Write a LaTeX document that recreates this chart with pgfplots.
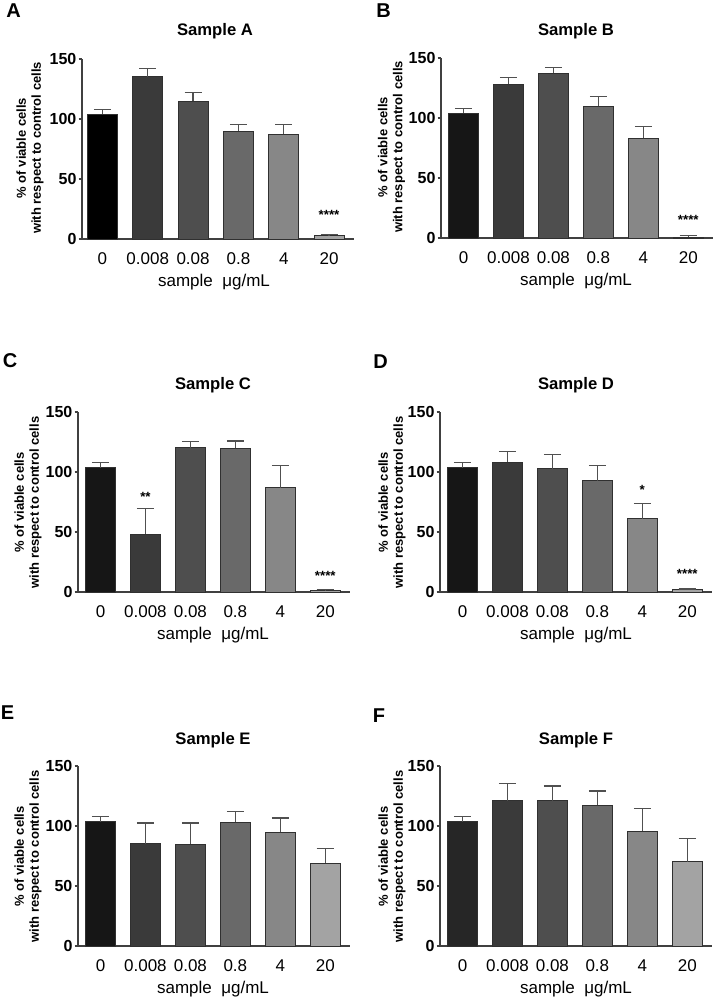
\documentclass[border=0pt]{standalone}
\usepackage{pgfplots}
\pgfplotsset{compat=1.18}
\usepackage{fontspec}
\setmainfont{Liberation Sans}

\definecolor{axgray}{HTML}{404040}
\definecolor{errgray}{HTML}{505050}
\definecolor{edge}{HTML}{303030}
\definecolor{k0}{HTML}{000000}
\definecolor{g0}{HTML}{161616}
\definecolor{f0}{HTML}{262626}
\definecolor{g1}{HTML}{3A3A3A}
\definecolor{g2}{HTML}{4E4E4E}
\definecolor{g3}{HTML}{696969}
\definecolor{g4}{HTML}{878787}
\definecolor{g5}{HTML}{A3A3A3}

\pgfplotsset{
  panel/.style={
    scale only axis, width=204pt, height=135pt,
    xmin=-0.5, xmax=5.55, ymin=0, ymax=150,
    axis x line=bottom, axis y line=left,
    axis line style={-, draw=axgray, line width=1pt},
    ytick={0,50,100,150}, yticklabels={0,50,100,150},
    xtick={0,1,2,3,4,5}, xticklabels={0,0.008,0.08,0.8,4,20},
    tick align=outside, major tick length=2.5pt,
    y tick style={draw=axgray, line width=0.8pt},
    x tick style={draw=none},
    yticklabel style={font=\fontsize{12}{12}\selectfont\bfseries, inner sep=0pt, xshift=-1.5pt},
    xticklabel style={font=\fontsize{12.75}{13}\selectfont, yshift=-4pt},
    clip=false,
    ybar, bar width=22.5pt,
    error bars/y dir=plus, error bars/y explicit,
    error bars/error bar style={draw=errgray, line width=0.9pt},
    error bars/error mark options={rotate=90, draw=errgray, line width=0.9pt, mark size=6.4pt},
  },
  bb/.style={fill=#1, draw=edge, line width=0.6pt, bar shift=0pt},
}
\newcommand{\stars}[1]{\fontsize{10}{10}\selectfont\bfseries #1}

\begin{document}
\begin{tikzpicture}
% ---------- A ----------
\begin{axis}[panel, at={(61.5pt,-179.25pt)}, anchor=south west, xmin=-0.45]
\addplot[bb=k0] coordinates {(0,103.8) +- (0,4.2)};
\addplot[bb=g1] coordinates {(1,135.4) +- (0,6.9)};
\addplot[bb=g2] coordinates {(2,114.6) +- (0,7.4)};
\addplot[bb=g3] coordinates {(3,89.9) +- (0,5.2)};
\addplot[bb=g4] coordinates {(4,87.3) +- (0,7.8)};
\addplot[bb=g5] coordinates {(5,2.9) +- (0,0.8)};
\node at (axis cs:5,20) {\stars{****}};
\end{axis}
% ---------- B ----------
\begin{axis}[panel, at={(330.75pt,-178.5pt)}, anchor=south west]
\addplot[bb=g0] coordinates {(0,104.1) +- (0,4.1)};
\addplot[bb=g1] coordinates {(1,128.3) +- (0,5.2)};
\addplot[bb=g2] coordinates {(2,137.2) +- (0,5.0)};
\addplot[bb=g3] coordinates {(3,110.0) +- (0,7.6)};
\addplot[bb=g4] coordinates {(4,83.0) +- (0,10.2)};
\addplot[bb=g5] coordinates {(5,0.9) +- (0,0.9)};
\node at (axis cs:5,15) {\stars{****}};
\end{axis}
% ---------- C ----------
\begin{axis}[panel, at={(58.5pt,-444pt)}, anchor=south west]
\addplot[bb=g0] coordinates {(0,103.5) +- (0,4.1)};
\addplot[bb=g1] coordinates {(1,48.3) +- (0,21.3)};
\addplot[bb=g2] coordinates {(2,120.2) +- (0,5.3)};
\addplot[bb=g3] coordinates {(3,119.6) +- (0,6.2)};
\addplot[bb=g4] coordinates {(4,86.9) +- (0,18.3)};
\addplot[bb=g5] coordinates {(5,1.2) +- (0,0.8)};
\node at (axis cs:1,79) {\stars{**}};
\node at (axis cs:5,13) {\stars{****}};
\end{axis}
% ---------- D ----------
\begin{axis}[panel, at={(330pt,-444pt)}, anchor=south west]
\addplot[bb=g0] coordinates {(0,103.5) +- (0,4.1)};
\addplot[bb=g1] coordinates {(1,108.3) +- (0,9.0)};
\addplot[bb=g2] coordinates {(2,102.9) +- (0,11.5)};
\addplot[bb=g3] coordinates {(3,92.6) +- (0,12.6)};
\addplot[bb=g4] coordinates {(4,61.0) +- (0,12.9)};
\addplot[bb=g5] coordinates {(5,1.8) +- (0,0.7)};
\node at (axis cs:4,85) {\stars{*}};
\node at (axis cs:5,15) {\stars{****}};
\end{axis}
% ---------- E ----------
\begin{axis}[panel, at={(58.5pt,-709.5pt)}, anchor=south west]
\addplot[bb=g0] coordinates {(0,103.6) +- (0,4.2)};
\addplot[bb=g1] coordinates {(1,85.3) +- (0,17.2)};
\addplot[bb=g2] coordinates {(2,85.0) +- (0,17.5)};
\addplot[bb=g3] coordinates {(3,103.0) +- (0,9.3)};
\addplot[bb=g4] coordinates {(4,94.7) +- (0,12.0)};
\addplot[bb=g5] coordinates {(5,69.2) +- (0,12.2)};
\end{axis}
% ---------- F ----------
\begin{axis}[panel, at={(330pt,-709.5pt)}, anchor=south west]
\addplot[bb=f0] coordinates {(0,103.6) +- (0,4.2)};
\addplot[bb=g1] coordinates {(1,121.1) +- (0,14.2)};
\addplot[bb=g2] coordinates {(2,121.1) +- (0,12.2)};
\addplot[bb=g3] coordinates {(3,117.2) +- (0,12.0)};
\addplot[bb=g4] coordinates {(4,95.8) +- (0,18.9)};
\addplot[bb=g5] coordinates {(5,70.3) +- (0,19.4)};
\end{axis}

\begin{scope}[x=0.75pt, y=-0.75pt]
\tikzset{
  letter/.style={font=\fontsize{15}{15}\selectfont\bfseries},
  ttl/.style={font=\fontsize{12.5}{12.5}\selectfont\bfseries},
  ylab/.style={font=\fontsize{9.75}{11.25}\selectfont\bfseries, rotate=90, align=center},
  xlab/.style={font=\fontsize{12.75}{13}\selectfont},
}
\node[letter] at (13.5,11) {A};
\node[letter] at (383.5,11) {B};
\node[letter] at (10,361) {C};
\node[letter] at (380.5,362) {D};
\node[letter] at (7.5,713) {E};
\node[letter] at (379,716) {F};
\node[ttl] at (215,31) {Sample A};
\node[ttl] at (576,31) {Sample B};
\node[ttl] at (213,385) {Sample C};
\node[ttl] at (576,385) {Sample D};
\node[ttl] at (213,740) {Sample E};
\node[ttl] at (576,740) {Sample F};
\node[ylab] at (30,148) {\% of viable cells\\with respect to control cells};
\node[ylab] at (391.5,147) {\% of viable cells\\with respect to control cells};
\node[ylab] at (28,502.5) {\% of viable cells\\with respect to control cells};
\node[ylab] at (392,502.5) {\% of viable cells\\with respect to control cells};
\node[ylab] at (28,856.5) {\% of viable cells\\with respect to control cells};
\node[ylab] at (392,856.5) {\% of viable cells\\with respect to control cells};
\node[xlab] at (214,282) {sample\ \ μg/mL};
\node[xlab] at (576,281) {sample\ \ μg/mL};
\node[xlab] at (213,635) {sample\ \ μg/mL};
\node[xlab] at (576,635) {sample\ \ μg/mL};
\node[xlab] at (213,989) {sample\ \ μg/mL};
\node[xlab] at (576,989) {sample\ \ μg/mL};
\pgfresetboundingbox
\useasboundingbox (0,0) rectangle (713,1000);
\end{scope}
\end{tikzpicture}
\end{document}
